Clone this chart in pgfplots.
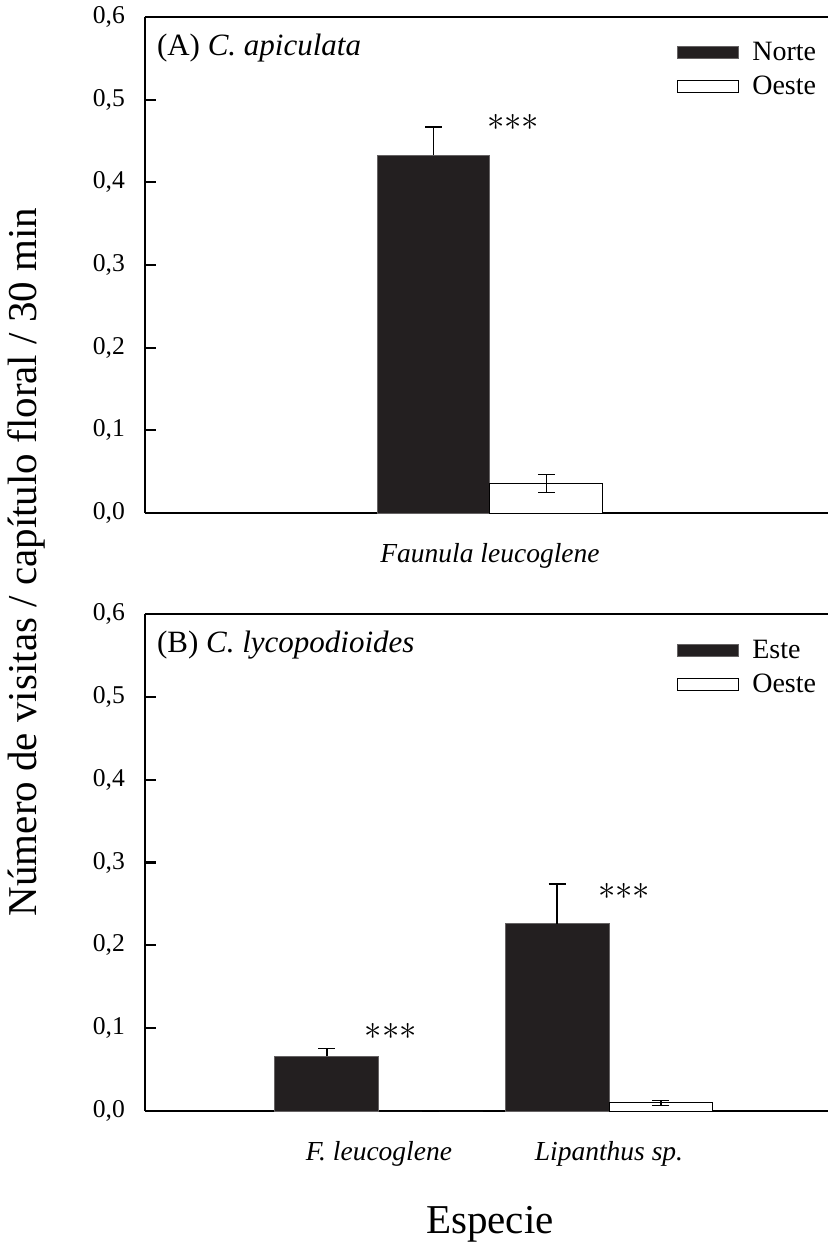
\documentclass[border=0pt]{standalone}
\usepackage{fontspec}
\setmainfont{Liberation Serif}
\usepackage{pgfplots}
\pgfplotsset{compat=1.18}
\definecolor{barblack}{HTML}{231F20}
\pgfplotsset{
  panel/.style={
    scale only axis, width=341.5pt,
    axis x line=box, axis y line=left,
    axis line style={line width=1.15pt,-},
    ymin=0, ymax=0.6,
    ytick={0,0.1,0.2,0.3,0.4,0.5,0.6},
    yticklabel style={/pgf/number format/fixed, /pgf/number format/fixed zerofill, /pgf/number format/precision=1, /pgf/number format/use comma, /pgf/number format/assume math mode=true, font=\fontsize{12.8}{14}\selectfont, xshift=-6.5pt},
    xticklabel style={font=\fontsize{13.75}{15}\selectfont, yshift=-11.5pt},
    tick align=inside, major tick length=5.5pt,
    ytick style={line width=1.15pt, color=black},
    xtick style={draw=none},
    legend style={draw=none, fill=none, font=\fontsize{14}{16}\selectfont, anchor=north west, row sep=2.5pt},
    legend cell align=left,
    legend image code/.code={\draw[#1, line width=0.5pt] (0pt,-3pt) rectangle (30.5pt,3pt); \path (35pt,0pt);},
  },
  blackbar/.style={ybar, bar shift=0pt, fill=barblack, draw=barblack!70, line width=0.5pt,
    error bars/y dir=plus, error bars/y explicit,
    error bars/error bar style={line width=0.6pt, color=black},
    error bars/error mark options={rotate=90, mark size=4.25pt, line width=0.6pt, color=black}},
  whitebar/.style={ybar, bar shift=0pt, fill=white, draw=black, line width=0.5pt,
    error bars/y dir=both, error bars/y explicit,
    error bars/error bar style={line width=0.6pt, color=black},
    error bars/error mark options={rotate=90, mark size=4.25pt, line width=0.6pt, color=black}},
}
\begin{document}
\begin{tikzpicture}
\path[use as bounding box] (0pt,0pt) rectangle (414pt,-621.5pt);

% Panel A: one category at x = 0; Norte bar at -0.245, Oeste bar at +0.245
\begin{axis}[panel, height=248pt, at={(72.5pt,-8.5pt)}, anchor=north west,
  xmin=-1.5, xmax=1.47, xtick={0}, xticklabels={\textit{Faunula leucoglene}},
  legend style={at={(rel axis cs:0.77,0.967)}}]
\addplot[blackbar, bar width=0.49] coordinates {(-0.245,0.433) +- (0,0.034)};
\addlegendentry{Norte}
\addplot[whitebar, bar width=0.49] coordinates {(0.245,0.036) +- (0,0.011)};
\addlegendentry{Oeste}
\node[anchor=base west, inner sep=0pt, font=\fontsize{15.5}{17}\selectfont] at (rel axis cs:0.017,0.923) {(A) \textit{C. apiculata}};
\node[font=\fontsize{16}{16}\selectfont] at (axis cs:0.1,0.473) {$\mathord{\ast}\mathord{\ast}\mathord{\ast}$};
\end{axis}

% Panel B: categories at x = 0 (F. leucoglene) and x = 1 (Lipanthus sp.)
\begin{axis}[panel, height=248.5pt, at={(72.5pt,-307pt)}, anchor=north west,
  xmin=-1.017, xmax=1.952, xtick={0,1}, xticklabels={\textit{F. leucoglene},\textit{Lipanthus sp.}},
  legend style={at={(rel axis cs:0.77,0.965)}},
  xlabel={Especie}, xlabel style={at={(axis description cs:0.505,-0.2455)}, anchor=base, inner sep=0pt, font=\fontsize{20.5}{24}\selectfont}]
\addplot[blackbar, bar width=0.452] coordinates {(-0.226,0.066) +- (0,0.009) (0.774,0.226) +- (0,0.048)};
\addlegendentry{Este}
\addplot[whitebar, bar width=0.452] coordinates {(0.226,0) +- (0,0) (1.226,0.0097) +- (0,0.003)};
\addlegendentry{Oeste}
\node[anchor=base west, inner sep=0pt, font=\fontsize{15.5}{17}\selectfont] at (rel axis cs:0.017,0.923) {(B) \textit{C. lycopodioides}};
\node[font=\fontsize{16}{16}\selectfont] at (axis cs:0.052,0.0966) {$\mathord{\ast}\mathord{\ast}\mathord{\ast}$};
\node[font=\fontsize{16}{16}\selectfont] at (axis cs:1.065,0.2645) {$\mathord{\ast}\mathord{\ast}\mathord{\ast}$};
\end{axis}

\node[rotate=90, font=\fontsize{20.5}{24}\selectfont] at (13pt,-281pt) {Número de visitas / capítulo floral / 30 min};
\end{tikzpicture}
\end{document}
